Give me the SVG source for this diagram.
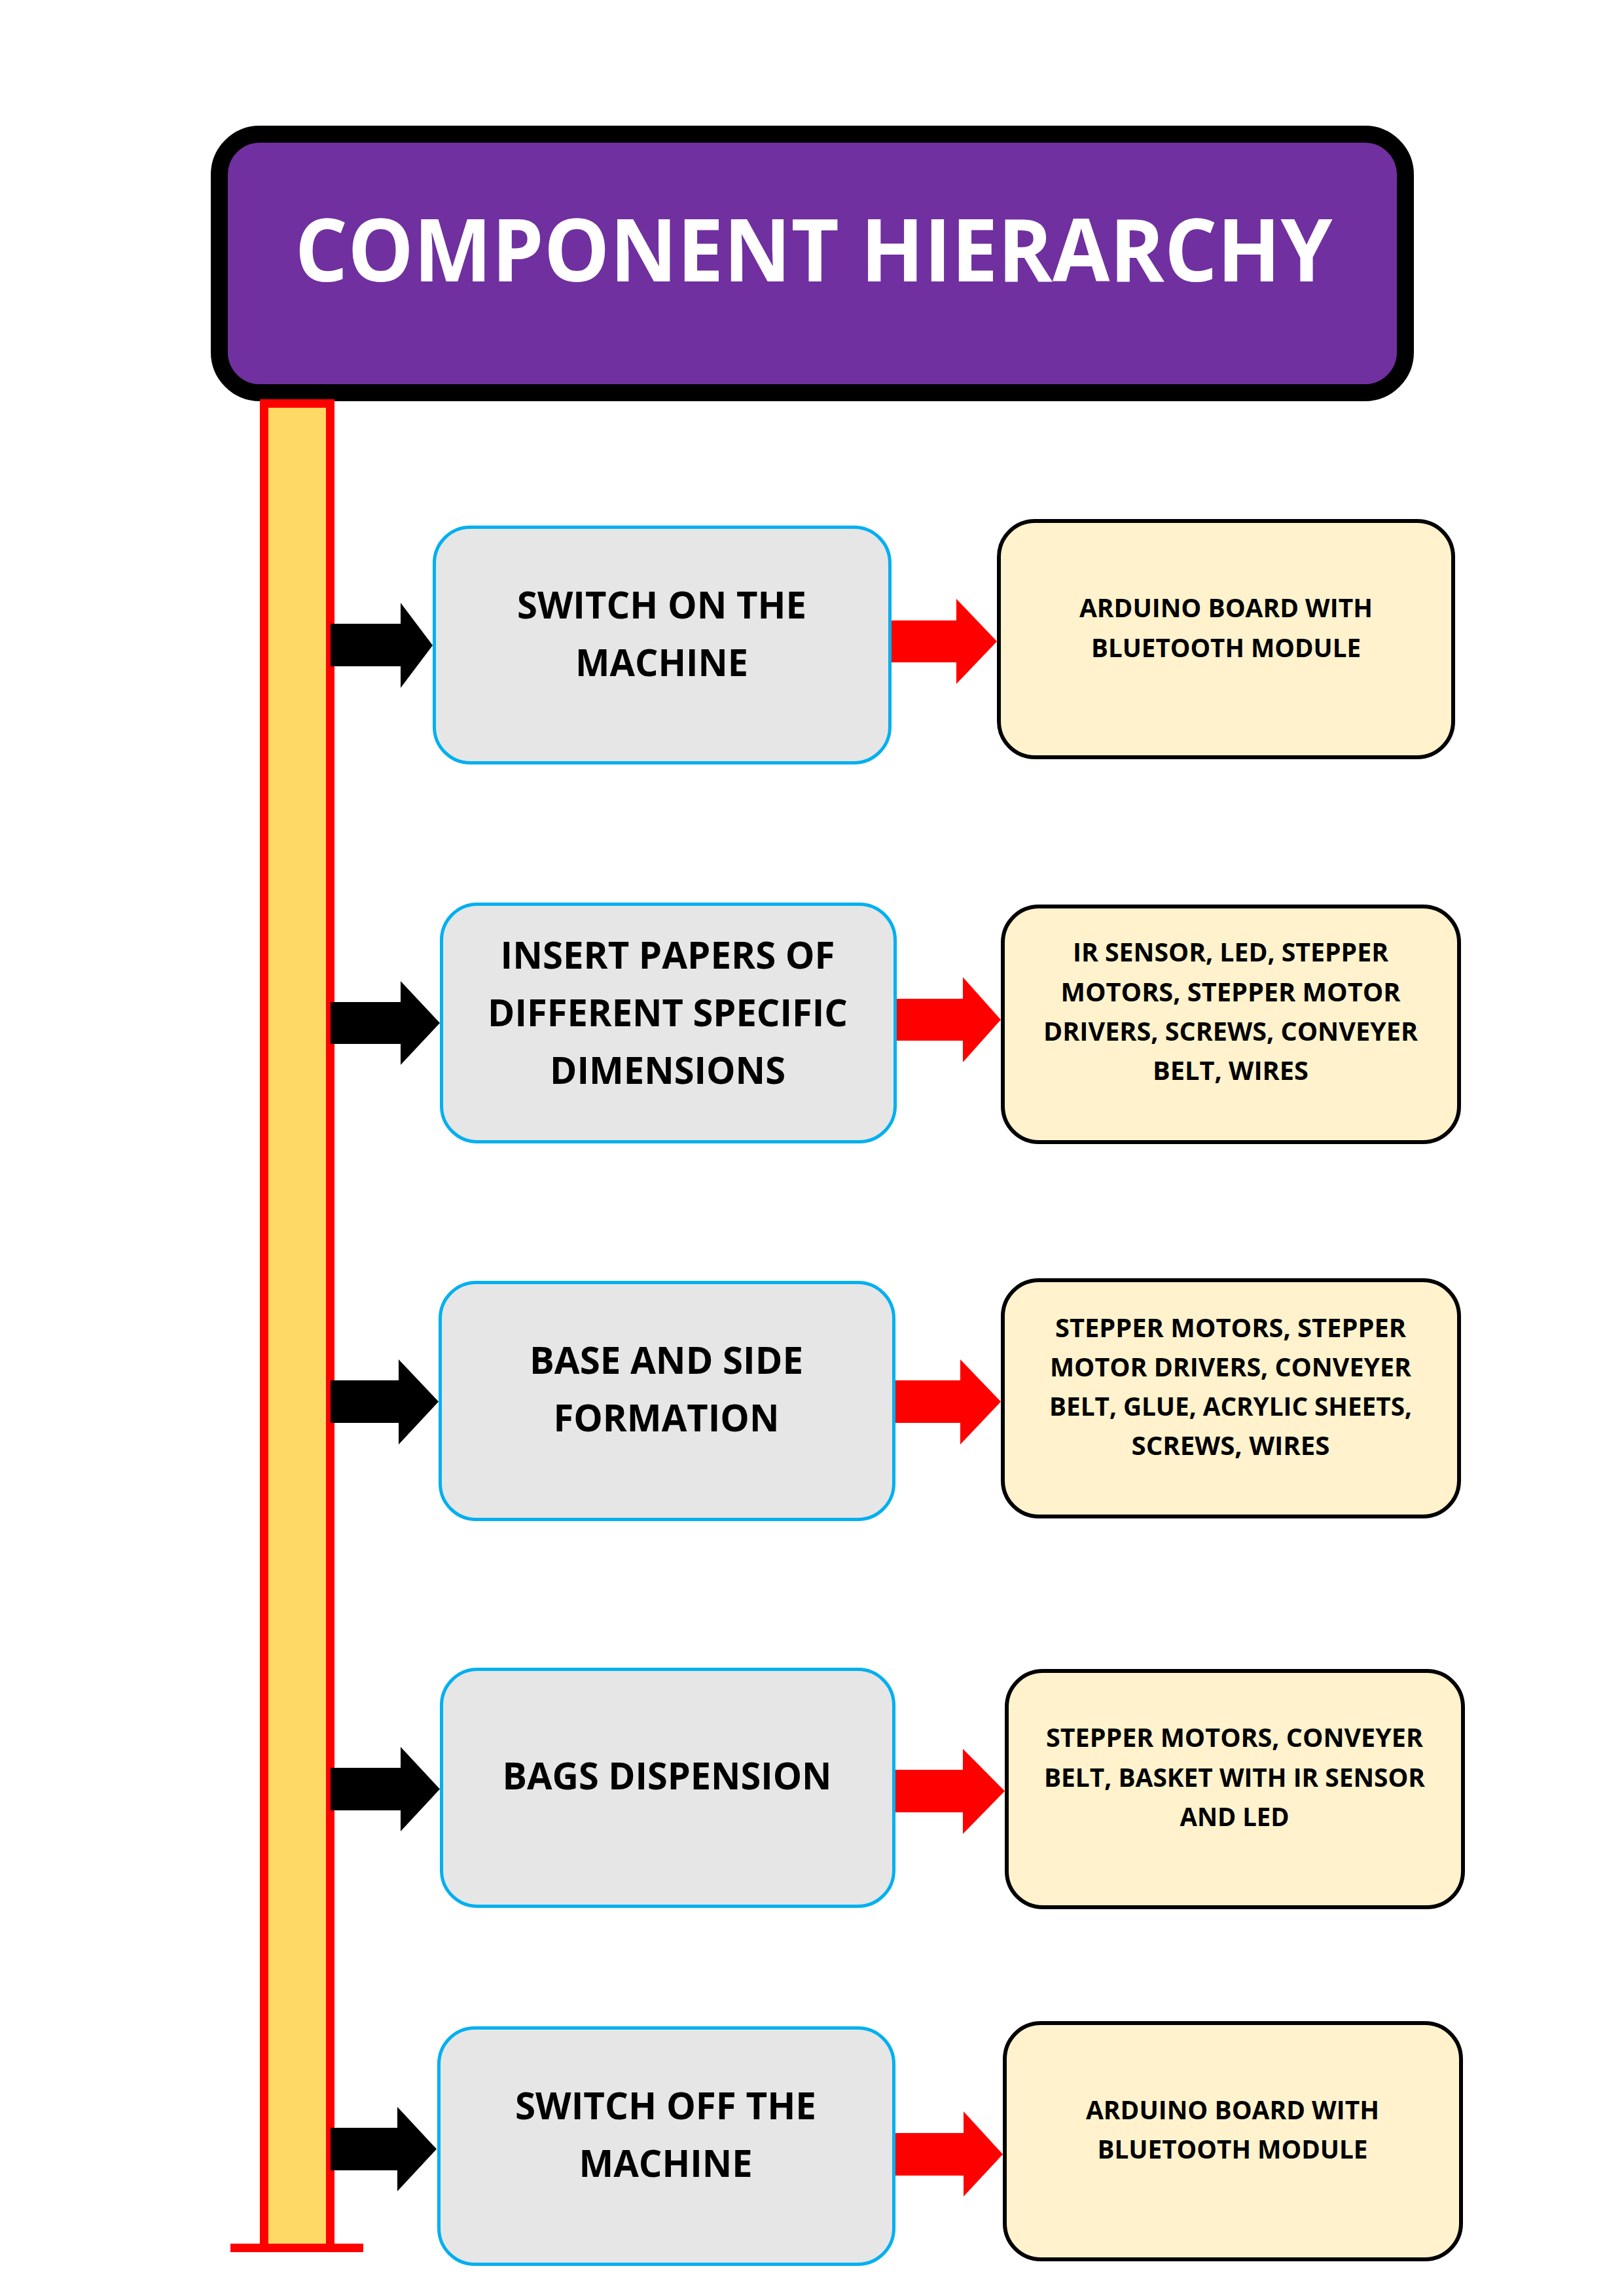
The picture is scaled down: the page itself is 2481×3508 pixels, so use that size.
<svg xmlns="http://www.w3.org/2000/svg" width="2481" height="3508" viewBox="0 0 2481 3508">
<style>
.ttl{font-family:"Open Sans","Liberation Sans",sans-serif;font-weight:700;font-size:133px;fill:#FFFFFF;text-anchor:middle}
.step{fill:#E6E6E6;stroke:#00B0F0;stroke-width:5}
.comp{fill:#FFF2CC;stroke:#000000;stroke-width:6}
.st{font-family:"Open Sans","Liberation Sans",sans-serif;font-weight:700;font-size:58px;fill:#000000;text-anchor:middle}
.ct{font-family:"Open Sans","Liberation Sans",sans-serif;font-weight:700;font-size:39px;fill:#000000;text-anchor:middle}
.blk{fill:#000000}
.red{fill:#FF0000}
</style>
<rect width="2481" height="3508" fill="#FFFFFF"/>
<g id="title">
<rect x="335" y="205" width="1812" height="395" rx="62" ry="62" fill="#7030A0" stroke="#000000" stroke-width="26"/>
<text class="ttl" x="1243" y="430" textLength="1585" lengthAdjust="spacingAndGlyphs">COMPONENT HIERARCHY</text>
</g>
<g id="timeline">
<rect x="403.5" y="616.5" width="101" height="2818" fill="#FFD966" stroke="#FF0000" stroke-width="13"/>
<rect x="352" y="3428" width="203" height="13" fill="#FF0000"/>
</g>
<g id="connectors">
<path class="blk" d="M505,953 H612 V921 L661,986 L612,1051 V1018 H505 Z"/>
<path class="blk" d="M505,1531 H612 V1499 L672,1563 L612,1627 V1595 H505 Z"/>
<path class="blk" d="M505,2109 H609 V2077 L670,2141.5 L609,2207 V2174 H505 Z"/>
<path class="blk" d="M505,2701 H612 V2669 L672,2733.5 L612,2798 V2766 H505 Z"/>
<path class="blk" d="M505,3251 H607 V3219 L667,3283.5 L607,3348 V3316 H505 Z"/>
<path class="red" d="M1357,948 H1461 V915 L1523,980 L1461,1045 V1012 H1357 Z"/>
<path class="red" d="M1366,1526 H1471 V1493 L1529,1558 L1471,1623 V1590 H1366 Z"/>
<path class="red" d="M1364,2109 H1467 V2077 L1529,2141.5 L1467,2207 V2174 H1364 Z"/>
<path class="red" d="M1364,2704 H1471 V2672 L1535,2736.5 L1471,2802 V2769 H1364 Z"/>
<path class="red" d="M1364,3259 H1472 V3226 L1532,3291.5 L1472,3356 V3324 H1364 Z"/>
</g>
<g id="step1">
<rect class="step" x="663.5" y="805.5" width="696" height="360" rx="55" ry="55"/>
<text class="st" x="1011" y="945" textLength="442" lengthAdjust="spacingAndGlyphs">SWITCH ON THE</text>
<text class="st" x="1011" y="1033" textLength="264" lengthAdjust="spacingAndGlyphs">MACHINE</text>
</g>
<g id="comp1">
<rect class="comp" x="1526" y="796" width="694" height="361" rx="55" ry="55"/>
<text class="ct" x="1873" y="943" textLength="448" lengthAdjust="spacingAndGlyphs">ARDUINO BOARD WITH</text>
<text class="ct" x="1873" y="1004" textLength="412" lengthAdjust="spacingAndGlyphs">BLUETOOTH MODULE</text>
</g>
<g id="step2">
<rect class="step" x="674.5" y="1381.5" width="693" height="363" rx="55" ry="55"/>
<text class="st" x="1020" y="1480" textLength="511" lengthAdjust="spacingAndGlyphs">INSERT PAPERS OF</text>
<text class="st" x="1020" y="1568" textLength="550" lengthAdjust="spacingAndGlyphs">DIFFERENT SPECIFIC</text>
<text class="st" x="1020" y="1656" textLength="360" lengthAdjust="spacingAndGlyphs">DIMENSIONS</text>
</g>
<g id="comp2">
<rect class="comp" x="1532" y="1385" width="697" height="360" rx="55" ry="55"/>
<text class="ct" x="1880" y="1469" textLength="482" lengthAdjust="spacingAndGlyphs">IR SENSOR, LED, STEPPER</text>
<text class="ct" x="1880" y="1530" textLength="519" lengthAdjust="spacingAndGlyphs">MOTORS, STEPPER MOTOR</text>
<text class="ct" x="1880" y="1590" textLength="572" lengthAdjust="spacingAndGlyphs">DRIVERS, SCREWS, CONVEYER</text>
<text class="ct" x="1880" y="1650" textLength="238" lengthAdjust="spacingAndGlyphs">BELT, WIRES</text>
</g>
<g id="step3">
<rect class="step" x="672.5" y="1959.5" width="693" height="362" rx="55" ry="55"/>
<text class="st" x="1018" y="2099" textLength="418" lengthAdjust="spacingAndGlyphs">BASE AND SIDE</text>
<text class="st" x="1018" y="2187" textLength="345" lengthAdjust="spacingAndGlyphs">FORMATION</text>
</g>
<g id="comp3">
<rect class="comp" x="1532" y="1956" width="697" height="361" rx="55" ry="55"/>
<text class="ct" x="1880" y="2043" textLength="536" lengthAdjust="spacingAndGlyphs">STEPPER MOTORS, STEPPER</text>
<text class="ct" x="1880" y="2103" textLength="552" lengthAdjust="spacingAndGlyphs">MOTOR DRIVERS, CONVEYER</text>
<text class="ct" x="1880" y="2163" textLength="554" lengthAdjust="spacingAndGlyphs">BELT, GLUE, ACRYLIC SHEETS,</text>
<text class="ct" x="1880" y="2223" textLength="303" lengthAdjust="spacingAndGlyphs">SCREWS, WIRES</text>
</g>
<g id="step4">
<rect class="step" x="674.5" y="2550.5" width="691" height="362" rx="55" ry="55"/>
<text class="st" x="1019" y="2734" textLength="503" lengthAdjust="spacingAndGlyphs">BAGS DISPENSION</text>
</g>
<g id="comp4">
<rect class="comp" x="1538" y="2553" width="697" height="361" rx="55" ry="55"/>
<text class="ct" x="1886" y="2669" textLength="576" lengthAdjust="spacingAndGlyphs">STEPPER MOTORS, CONVEYER</text>
<text class="ct" x="1886" y="2730" textLength="582" lengthAdjust="spacingAndGlyphs">BELT, BASKET WITH IR SENSOR</text>
<text class="ct" x="1886" y="2790" textLength="167" lengthAdjust="spacingAndGlyphs">AND LED</text>
</g>
<g id="step5">
<rect class="step" x="670.5" y="3098.5" width="695" height="361" rx="55" ry="55"/>
<text class="st" x="1017" y="3238" textLength="460" lengthAdjust="spacingAndGlyphs">SWITCH OFF THE</text>
<text class="st" x="1017" y="3326" textLength="265" lengthAdjust="spacingAndGlyphs">MACHINE</text>
</g>
<g id="comp5">
<rect class="comp" x="1535" y="3091" width="697" height="361" rx="55" ry="55"/>
<text class="ct" x="1883" y="3238" textLength="448" lengthAdjust="spacingAndGlyphs">ARDUINO BOARD WITH</text>
<text class="ct" x="1883" y="3298" textLength="413" lengthAdjust="spacingAndGlyphs">BLUETOOTH MODULE</text>
</g>
</svg>
